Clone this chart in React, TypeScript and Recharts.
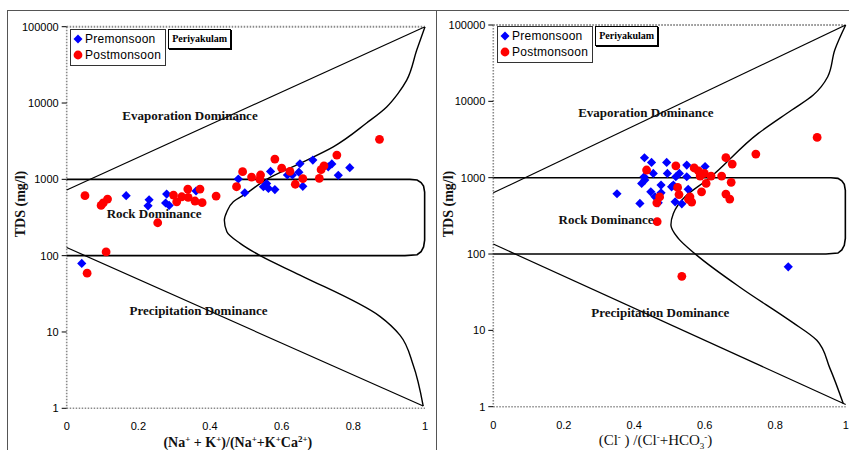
import {
  ComposedChart,
  Scatter,
  XAxis,
  YAxis,
  Legend,
  Label,
  ReferenceDot,
  ReferenceLine,
} from 'recharts'

/** Gibbs diagram data – Periyakulam, TDS (mg/l) vs ionic ratio */

const X_TICKS = [0, 0.2, 0.4, 0.6, 0.8, 1]
const Y_TICKS = [1, 10, 100, 1000, 10000, 100000]

// cation panel: (Na+K)/(Na+K+Ca)
const CAT_PRE = [
  { r: 0.042, tds: 79 }, { r: 0.166, tds: 610 }, { r: 0.230, tds: 540 }, { r: 0.227, tds: 450 },
  { r: 0.279, tds: 641 }, { r: 0.276, tds: 490 }, { r: 0.286, tds: 455 }, { r: 0.361, tds: 703 },
  { r: 0.479, tds: 1010 }, { r: 0.497, tds: 667 }, { r: 0.549, tds: 800 }, { r: 0.558, tds: 880 },
  { r: 0.569, tds: 1270 }, { r: 0.563, tds: 760 }, { r: 0.581, tds: 735 }, { r: 0.616, tds: 1140 },
  { r: 0.630, tds: 1140 }, { r: 0.651, tds: 1600 }, { r: 0.648, tds: 1240 }, { r: 0.659, tds: 810 },
  { r: 0.687, tds: 1790 }, { r: 0.730, tds: 1460 }, { r: 0.740, tds: 1590 }, { r: 0.758, tds: 1130 },
  { r: 0.790, tds: 1420 },
]
const CAT_POST = [
  { r: 0.051, tds: 610 }, { r: 0.096, tds: 455 }, { r: 0.102, tds: 490 }, { r: 0.114, tds: 552 },
  { r: 0.110, tds: 112 }, { r: 0.057, tds: 59 }, { r: 0.254, tds: 270 }, { r: 0.298, tds: 622 },
  { r: 0.307, tds: 508 }, { r: 0.321, tds: 591 }, { r: 0.338, tds: 746 }, { r: 0.339, tds: 581 },
  { r: 0.358, tds: 520 }, { r: 0.372, tds: 746 }, { r: 0.378, tds: 494 }, { r: 0.417, tds: 604 },
  { r: 0.474, tds: 800 }, { r: 0.491, tds: 1260 }, { r: 0.516, tds: 1070 }, { r: 0.541, tds: 1140 },
  { r: 0.539, tds: 1000 }, { r: 0.581, tds: 1845 }, { r: 0.600, tds: 1400 }, { r: 0.623, tds: 1270 },
  { r: 0.638, tds: 862 }, { r: 0.659, tds: 1020 }, { r: 0.705, tds: 1030 }, { r: 0.710, tds: 1340 },
  { r: 0.718, tds: 1500 }, { r: 0.754, tds: 2080 }, { r: 0.873, tds: 3340 },
]

// anion panel: Cl/(Cl+HCO3)
const AN_PRE = [
  { r: 0.351, tds: 616 }, { r: 0.416, tds: 460 }, { r: 0.429, tds: 1824 }, { r: 0.449, tds: 1585 },
  { r: 0.454, tds: 1138 }, { r: 0.428, tds: 1028 }, { r: 0.421, tds: 841 }, { r: 0.430, tds: 930 },
  { r: 0.447, tds: 653 }, { r: 0.459, tds: 562 }, { r: 0.476, tds: 634 }, { r: 0.476, tds: 800 },
  { r: 0.492, tds: 1585 }, { r: 0.494, tds: 1138 }, { r: 0.511, tds: 800 }, { r: 0.518, tds: 1028 },
  { r: 0.528, tds: 1138 }, { r: 0.549, tds: 1462 }, { r: 0.549, tds: 1028 }, { r: 0.553, tds: 703 },
  { r: 0.506, tds: 760 }, { r: 0.516, tds: 483 }, { r: 0.535, tds: 455 }, { r: 0.468, tds: 469 },
  { r: 0.601, tds: 1400 }, { r: 0.837, tds: 68 },
]
const AN_POST = [
  { r: 0.435, tds: 1260 }, { r: 0.464, tds: 469 }, { r: 0.472, tds: 560 }, { r: 0.465, tds: 265 },
  { r: 0.518, tds: 1430 }, { r: 0.523, tds: 746 }, { r: 0.527, tds: 600 }, { r: 0.554, tds: 520 },
  { r: 0.563, tds: 480 }, { r: 0.558, tds: 562 }, { r: 0.570, tds: 1340 }, { r: 0.582, tds: 1230 },
  { r: 0.591, tds: 653 }, { r: 0.599, tds: 1138 }, { r: 0.604, tds: 841 }, { r: 0.618, tds: 1050 },
  { r: 0.587, tds: 1050 }, { r: 0.648, tds: 1050 }, { r: 0.660, tds: 1830 }, { r: 0.675, tds: 870 },
  { r: 0.660, tds: 610 }, { r: 0.671, tds: 525 }, { r: 0.678, tds: 1508 }, { r: 0.745, tds: 2040 },
  { r: 0.919, tds: 3370 }, { r: 0.535, tds: 51 },
]

// boundary lines
const CAT_UPPER = [{ r: 0, tds: 726 }, { r: 1, tds: 100000 }]
const CAT_LOWER = [{ r: 0, tds: 128 }, { r: 0.995, tds: 1.07 }]
const CAT_CURVE = [
  { r: 1, tds: 100000 }, { r: 0.977, tds: 49500 }, { r: 0.949, tds: 20000 }, { r: 0.925, tds: 13400 },
  { r: 0.893, tds: 8900 }, { r: 0.837, tds: 5470 }, { r: 0.744, tds: 2670 }, { r: 0.651, tds: 1620 },
  { r: 0.558, tds: 1000 }, { r: 0.502, tds: 656 }, { r: 0.465, tds: 508 }, { r: 0.447, tds: 376 },
  { r: 0.44, tds: 290 }, { r: 0.447, tds: 206 }, { r: 0.484, tds: 145 }, { r: 0.54, tds: 100 },
  { r: 0.651, tds: 55.7 }, { r: 0.875, tds: 15.9 }, { r: 0.93, tds: 9.1 }, { r: 0.967, tds: 3.7 },
  { r: 0.995, tds: 1.07 },
]

const AN_UPPER = [{ r: 0, tds: 634 }, { r: 1, tds: 100000 }]
const AN_LOWER = [{ r: 0, tds: 135 }, { r: 1, tds: 1.07 }]
const AN_CURVE = [
  { r: 1, tds: 100000 }, { r: 0.969, tds: 47000 }, { r: 0.949, tds: 21000 }, { r: 0.908, tds: 12100 },
  { r: 0.847, tds: 7690 }, { r: 0.752, tds: 3800 }, { r: 0.61, tds: 960 }, { r: 0.544, tds: 562 },
  { r: 0.511, tds: 340 }, { r: 0.504, tds: 240 }, { r: 0.525, tds: 160 }, { r: 0.577, tds: 96.8 },
  { r: 0.705, tds: 35.4 }, { r: 0.847, tds: 12.9 }, { r: 0.918, tds: 7.4 }, { r: 0.955, tds: 3.2 },
  { r: 0.993, tds: 1.1 },
]

// rock dominance envelope (1000 / 100 lines with rounded right end)
const ROCK_BOX = [
  { r: 0, tds: 1000 }, { r: 0.958, tds: 1000 }, { r: 0.978, tds: 980 }, { r: 0.989, tds: 908 },
  { r: 0.996, tds: 817 }, { r: 0.999, tds: 682 }, { r: 0.999, tds: 160 }, { r: 0.996, tds: 130 },
  { r: 0.989, tds: 113 }, { r: 0.978, tds: 103 }, { r: 0.944, tds: 100 }, { r: 0, tds: 100 },
]

const SANS = '"Liberation Sans", Arial, sans-serif'
const SERIF = '"Liberation Serif", "Times New Roman", serif'
const BLUE = '#0000ff'
const RED = '#ff0000'

const noDot = () => <g />

const diamond = (props: any) => {
  const { cx, cy } = props
  const h = 4.6
  return (
    <polygon
      points={`${cx},${cy - h} ${cx + h},${cy} ${cx},${cy + h} ${cx - h},${cy}`}
      fill={BLUE}
    />
  )
}

const dot = (props: any) => <circle cx={props.cx} cy={props.cy} r={4.4} fill={RED} />

const regionLabel = (value: string) => ({
  value,
  position: 'center' as const,
  fill: '#111',
  fontSize: 13,
  fontWeight: 'bold',
  fontFamily: SERIF,
})

function LegendBox() {
  return (
    <div style={{ display: 'flex', alignItems: 'flex-start', gap: 2 }}>
      <div
        style={{
          border: '1px solid #333',
          background: '#fff',
          padding: '1px 4px 2px 1px',
          fontFamily: SANS,
          fontSize: 12,
          letterSpacing: 0.25,
          lineHeight: '16px',
          color: '#000',
        }}
      >
        <div style={{ display: 'flex', alignItems: 'center' }}>
          <svg width={12} height={12}>
            <polygon points="6,1.5 10.5,6 6,10.5 1.5,6" fill={BLUE} />
          </svg>
          <span style={{ marginLeft: 1 }}>Premonsoon</span>
        </div>
        <div style={{ display: 'flex', alignItems: 'center' }}>
          <svg width={12} height={12}>
            <circle cx={6} cy={6} r={4.4} fill={RED} />
          </svg>
          <span style={{ marginLeft: 1 }}>Postmonsoon</span>
        </div>
      </div>
      <div
        style={{
          border: '1px solid #000',
          boxShadow: '1px 1px 0 #000',
          background: '#fff',
          padding: '2px 3px',
          fontFamily: SERIF,
          fontWeight: 'bold',
          fontSize: 10,
          lineHeight: '14px',
          color: '#000',
        }}
      >
        Periyakulam
      </div>
    </div>
  )
}

const sup = (s: string) => [
  <tspan key={s + 'a'} dy={-5} fontSize={9}>{s}</tspan>,
]

function CationTitle(props: any) {
  const { viewBox } = props
  const x = viewBox.x + viewBox.width / 2 - 8
  const y = viewBox.y + 38.5
  return (
    <text x={x} y={y} textAnchor="middle" fontFamily={SERIF} fontWeight="bold" fontSize={14} fill="#111">
      <tspan>(Na</tspan>{sup('+')}<tspan dy={5}> + K</tspan>{sup('+')}
      <tspan dy={5}>)/(Na</tspan>{sup('+')}<tspan dy={5}>+K</tspan>{sup('+')}
      <tspan dy={5}>Ca</tspan>{sup('2+')}<tspan dy={5}>)</tspan>
    </text>
  )
}

function AnionTitle(props: any) {
  const { viewBox } = props
  const x = viewBox.x + viewBox.width / 2 - 14
  const y = viewBox.y + 38
  return (
    <text x={x} y={y} textAnchor="middle" fontFamily={SERIF} fontSize={15} fill="#111">
      <tspan>(Cl</tspan>{sup('-')}<tspan dy={5}> ) /(Cl</tspan>{sup('-')}
      <tspan dy={5}>+HCO</tspan>
      <tspan dy={4} fontSize={9}>3</tspan>
      <tspan dy={-9} fontSize={9}>-</tspan>
      <tspan dy={5}>)</tspan>
    </text>
  )
}

function TdsTitle(props: any) {
  const { cx } = props
  const cy = 204
  return (
    <text
      x={cx}
      y={cy}
      transform={`rotate(-90, ${cx}, ${cy})`}
      textAnchor="middle"
      dominantBaseline="central"
      fontFamily={SERIF}
      fontWeight="bold"
      fontSize={14}
      fill="#111"
    >
      TDS (mg/l)
    </text>
  )
}

interface PanelProps {
  width: number
  marginTop: number
  marginRight: number
  axisWidth: number
  axisHeight: number
  pre: { r: number; tds: number }[]
  post: { r: number; tds: number }[]
  upper: { r: number; tds: number }[]
  lower: { r: number; tds: number }[]
  curve: { r: number; tds: number }[]
  labels: { r: number; tds: number; text: string }[]
  legendLeft: number
  legendTop: number
  titleX: number
  xTitle: (p: any) => any
}

function GibbsPanel(p: PanelProps) {
  const dotted = { stroke: '#8a8a8a', strokeDasharray: '1.5 1.5', strokeWidth: 1.6 }
  const lineStyle = { stroke: '#000', strokeWidth: 1.2 }
  return (
    <ComposedChart
      width={p.width}
      height={450}
      margin={{ top: p.marginTop, right: p.marginRight, bottom: 0, left: 0 }}
    >
      <XAxis
        type="number"
        dataKey="r"
        domain={[0, 1]}
        ticks={X_TICKS}
        height={p.axisHeight}
        axisLine={dotted}
        tickLine={false}
        tickMargin={8}
        tick={{ fontSize: 11, fill: '#000', fontFamily: SANS }}
      >
        <Label content={p.xTitle} />
      </XAxis>
      <YAxis
        type="number"
        dataKey="tds"
        scale="log"
        domain={[1, 100000]}
        ticks={Y_TICKS}
        allowDataOverflow
        width={p.axisWidth}
        axisLine={dotted}
        tickSize={5}
        tickMargin={3}
        tickLine={{ stroke: '#000' }}
        tick={{ fontSize: 11, fill: '#000', fontFamily: SANS }}
      >
        <Label content={() => <TdsTitle cx={p.titleX} />} />
      </YAxis>
      <ReferenceLine y={100000} stroke="#8a8a8a" strokeDasharray="1.5 1.5" strokeWidth={2} />

      <Scatter data={p.upper} line={lineStyle} shape={noDot} isAnimationActive={false} legendType="none" />
      <Scatter data={p.lower} line={lineStyle} shape={noDot} isAnimationActive={false} legendType="none" />
      <Scatter
        data={p.curve}
        line={{ stroke: '#000', strokeWidth: 1.4 }}
        lineJointType="monotoneY"
        shape={noDot}
        isAnimationActive={false}
        legendType="none"
      />
      <Scatter
        data={ROCK_BOX}
        line={{ stroke: '#000', strokeWidth: 1.6 }}
        shape={noDot}
        isAnimationActive={false}
        legendType="none"
      />

      {p.labels.map((l) => (
        <ReferenceDot key={l.text} x={l.r} y={l.tds} r={0} fill="none" stroke="none" label={regionLabel(l.text)} />
      ))}

      <Scatter name="Premonsoon" data={p.pre} shape={diamond} isAnimationActive={false} />
      <Scatter name="Postmonsoon" data={p.post} shape={dot} isAnimationActive={false} />

      <Legend
        content={() => <LegendBox />}
        layout="vertical"
        verticalAlign="middle"
        align="center"
        wrapperStyle={{ left: p.legendLeft, top: p.legendTop, width: 'auto', height: 'auto' }}
      />
    </ComposedChart>
  )
}

export default function App() {
  return (
    <div style={{ position: 'absolute', left: 0, top: 0, width: 849, height: 450, background: '#fff', overflow: 'hidden' }}>
      {/* frame */}
      <div style={{ position: 'absolute', left: 7, top: 10, width: 842, height: 0, borderTop: '1px solid #555' }} />
      <div style={{ position: 'absolute', left: 7, top: 10, width: 0, height: 440, borderLeft: '1px solid #555' }} />
      <div style={{ position: 'absolute', left: 436, top: 10, width: 0, height: 440, borderLeft: '1px solid #555' }} />

      <div style={{ position: 'absolute', left: 0, top: 0 }}>
        <GibbsPanel
          width={430}
          marginTop={26.7}
          marginRight={5}
          axisWidth={66.7}
          axisHeight={41.7}
          pre={CAT_PRE}
          post={CAT_POST}
          upper={CAT_UPPER}
          lower={CAT_LOWER}
          curve={CAT_CURVE}
          labels={[
            { r: 0.344, tds: 6960, text: 'Evaporation Dominance' },
            { r: 0.244, tds: 360, text: 'Rock Dominance' },
            { r: 0.368, tds: 19.4, text: 'Precipitation Dominance' },
          ]}
          legendLeft={70}
          legendTop={29}
          titleX={20}
          xTitle={(lp: any) => <CationTitle {...lp} />}
        />
      </div>

      <div style={{ position: 'absolute', left: 437, top: 0 }}>
        <GibbsPanel
          width={412}
          marginTop={25}
          marginRight={3.3}
          axisWidth={56.3}
          axisHeight={43.3}
          pre={AN_PRE}
          post={AN_POST}
          upper={AN_UPPER}
          lower={AN_LOWER}
          curve={AN_CURVE}
          labels={[
            { r: 0.433, tds: 7240, text: 'Evaporation Dominance' },
            { r: 0.32, tds: 286, text: 'Rock Dominance' },
            { r: 0.474, tds: 17.3, text: 'Precipitation Dominance' },
          ]}
          legendLeft={60}
          legendTop={25.5}
          titleX={11}
          xTitle={(lp: any) => <AnionTitle {...lp} />}
        />
      </div>
    </div>
  )
}
